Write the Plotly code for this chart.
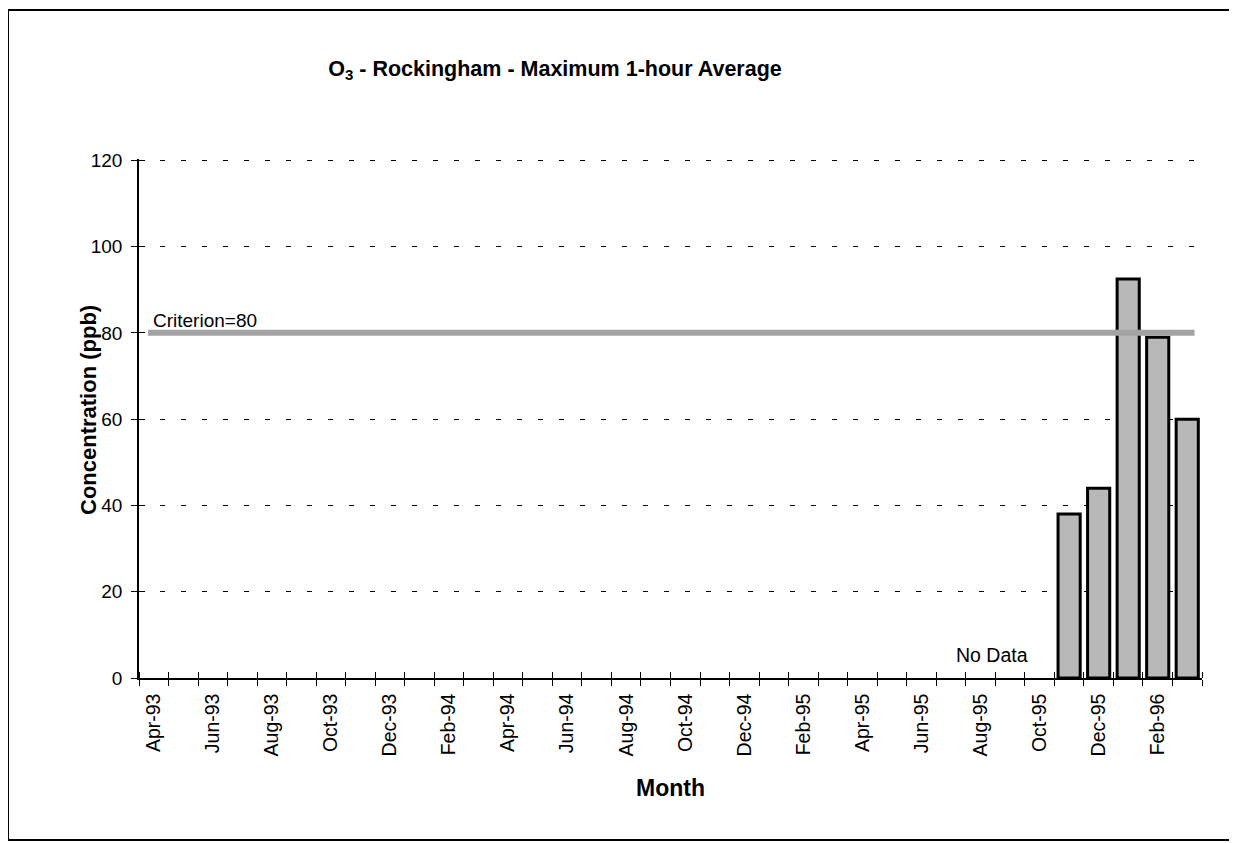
import plotly.graph_objects as go

months = [
    "Apr-93", "May-93", "Jun-93", "Jul-93", "Aug-93", "Sep-93", "Oct-93", "Nov-93", "Dec-93",
    "Jan-94", "Feb-94", "Mar-94", "Apr-94", "May-94", "Jun-94", "Jul-94", "Aug-94", "Sep-94",
    "Oct-94", "Nov-94", "Dec-94", "Jan-95", "Feb-95", "Mar-95", "Apr-95", "May-95", "Jun-95",
    "Jul-95", "Aug-95", "Sep-95", "Oct-95", "Nov-95", "Dec-95", "Jan-96", "Feb-96", "Mar-96",
]
# no data before Nov-95
max_1hr = [None] * 31 + [38, 44, 92.5, 79, 60]
criterion = 80
y_ticks = [0, 20, 40, 60, 80, 100, 120]

idx = list(range(len(months)))
font = "Liberation Sans, Arial, sans-serif"

# page has an 8px body margin, so the figure is sized to fit inside it
W, H = 1229, 835
L, R, T, B = 131, 35, 151, 165
pw, ph = W - L - R, H - T - B

fig = go.Figure()
fig.add_trace(
    go.Bar(
        x=idx,
        y=max_1hr,
        marker=dict(color="#b8b8b8", line=dict(color="black", width=3)),
        showlegend=False,
    )
)
# dummy trace so the overlay axes (crossing ticks) get drawn
fig.add_trace(go.Scatter(x=[None], y=[None], xaxis="x2", yaxis="y2", showlegend=False))

xr = [-0.5, len(months) - 0.5]
yr = [0, 120.3]

fig.update_layout(
    width=W,
    height=H,
    margin=dict(l=L, r=R, t=T, b=B),
    paper_bgcolor="white",
    plot_bgcolor="white",
    bargap=0.25,
    font=dict(family=font, size=19, color="black"),
    title=dict(
        text="<b>O<sub>3</sub> - Rockingham - Maximum 1-hour Average</b>",
        x=547 / W,
        xanchor="center",
        y=1 - 60 / H,
        yanchor="middle",
        font=dict(size=21.5),
    ),
    xaxis=dict(
        range=xr,
        tickvals=idx[::2],
        ticktext=months[::2],
        tickangle=-90,
        tickfont=dict(size=19.5),
        ticks="",
        ticklabelstandoff=6,
        showgrid=False,
        zeroline=False,
        showline=True,
        linecolor="black",
        linewidth=1.5,
        minor=dict(tick0=-0.5, dtick=1, ticks="outside", ticklen=6, tickcolor="black", showgrid=False),
        title=dict(text="<b>Month</b>", font=dict(size=23), standoff=24),
    ),
    yaxis=dict(
        range=yr,
        tickvals=y_ticks,
        ticks="outside",
        ticklen=6,
        tickcolor="black",
        ticklabelstandoff=5,
        showgrid=True,
        gridcolor="black",
        gridwidth=1,
        griddash="5px,16px",
        zeroline=False,
        showline=True,
        linecolor="black",
        linewidth=1.5,
    ),
    xaxis2=dict(
        range=xr,
        overlaying="x",
        anchor="y2",
        tickvals=[],
        ticks="",
        showticklabels=False,
        showgrid=False,
        zeroline=False,
        minor=dict(tick0=-0.5, dtick=1, ticks="inside", ticklen=6, tickcolor="black", showgrid=False),
    ),
    yaxis2=dict(
        range=yr,
        overlaying="y",
        anchor="x2",
        tickvals=y_ticks,
        ticks="inside",
        ticklen=6,
        tickcolor="black",
        showticklabels=False,
        showgrid=False,
        zeroline=False,
    ),
    shapes=[
        dict(
            type="line",
            xref="paper",
            yref="y",
            x0=0.0085,
            x1=0.993,
            y0=criterion,
            y1=criterion,
            line=dict(color="#a3a3a3", width=6),
            layer="above",
        ),
        dict(
            type="rect",
            xref="paper",
            yref="paper",
            x0=(0 - L) / pw,
            x1=(1226 - L) / pw,
            y0=(H - B - 832) / ph,
            y1=(H - B - 2) / ph,
            line=dict(color="black", width=2),
        ),
    ],
    annotations=[
        dict(
            text="<b>Concentration (ppb)</b>",
            xref="paper",
            yref="paper",
            x=(80 - L) / pw,
            y=(H - B - 402) / ph,
            xanchor="center",
            yanchor="middle",
            textangle=-90,
            showarrow=False,
            font=dict(size=22),
        ),
        dict(
            text="Criterion=" + str(criterion),
            xref="paper",
            yref="y",
            x=0.011,
            y=criterion,
            xanchor="left",
            yanchor="bottom",
            yshift=0,
            showarrow=False,
            font=dict(size=19),
        ),
        dict(
            text="No Data",
            xref="x",
            yref="y",
            x=28.4,
            y=5.3,
            showarrow=False,
            font=dict(size=19.5),
        ),
    ],
)

fig.write_html("out.html")
